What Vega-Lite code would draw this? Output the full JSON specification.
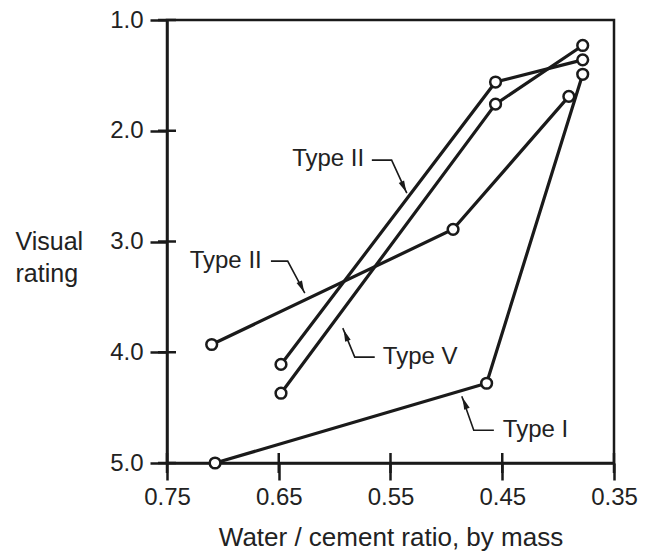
{
  "$schema": "https://vega.github.io/schema/vega-lite/v6.json",
  "width": 447,
  "height": 443,
  "autosize": "none",
  "padding": {"left": 167, "top": 20, "right": 34, "bottom": 96},
  "background": "white",
  "datasets": {
    "points": [
      {"series": "Type I", "wc": 0.707, "rating": 5.0},
      {"series": "Type I", "wc": 0.464, "rating": 4.28},
      {"series": "Type I", "wc": 0.378, "rating": 1.49},
      {"series": "Type II (a)", "wc": 0.648, "rating": 4.11},
      {"series": "Type II (a)", "wc": 0.456, "rating": 1.56},
      {"series": "Type II (a)", "wc": 0.378, "rating": 1.36},
      {"series": "Type V", "wc": 0.648, "rating": 4.37},
      {"series": "Type V", "wc": 0.456, "rating": 1.76},
      {"series": "Type V", "wc": 0.378, "rating": 1.23},
      {"series": "Type II (b)", "wc": 0.710, "rating": 3.93},
      {"series": "Type II (b)", "wc": 0.494, "rating": 2.89},
      {"series": "Type II (b)", "wc": 0.3904, "rating": 1.69}
    ],
    "labels": [
      {"label": "Type II", "wc": 0.638, "rating": 2.256},
      {"label": "Type II", "wc": 0.7297, "rating": 3.177},
      {"label": "Type V", "wc": 0.5569, "rating": 4.044},
      {"label": "Type I", "wc": 0.4495, "rating": 4.704}
    ],
    "leaders": [
      {"leader": "IIa", "step": 1, "wc": 0.5667, "rating": 2.265},
      {"leader": "IIa", "step": 2, "wc": 0.549, "rating": 2.265},
      {"leader": "IIa", "step": 3, "wc": 0.5354, "rating": 2.563},
      {"leader": "IIb", "step": 1, "wc": 0.657, "rating": 3.177},
      {"leader": "IIb", "step": 2, "wc": 0.642, "rating": 3.177},
      {"leader": "IIb", "step": 3, "wc": 0.6267, "rating": 3.466},
      {"leader": "V", "step": 1, "wc": 0.5641, "rating": 4.044},
      {"leader": "V", "step": 2, "wc": 0.582, "rating": 4.044},
      {"leader": "V", "step": 3, "wc": 0.5927, "rating": 3.782},
      {"leader": "I", "step": 1, "wc": 0.4575, "rating": 4.704},
      {"leader": "I", "step": 2, "wc": 0.4755, "rating": 4.704},
      {"leader": "I", "step": 3, "wc": 0.4862, "rating": 4.397}
    ],
    "arrows": [
      {"leader": "IIa", "wc": 0.538, "rating": 2.509},
      {"leader": "IIb", "wc": 0.6294, "rating": 3.412},
      {"leader": "V", "wc": 0.590, "rating": 3.846},
      {"leader": "I", "wc": 0.4835, "rating": 4.46}
    ],
    "xticks": [{"wc": 0.75}, {"wc": 0.65}, {"wc": 0.55}, {"wc": 0.45}, {"wc": 0.35}],
    "yticks": [{"rating": 1}, {"rating": 2}, {"rating": 3}, {"rating": 4}, {"rating": 5}]
  },
  "layer": [
    {
      "data": {"name": "points"},
      "mark": {"type": "line", "color": "#1a1a1a", "strokeWidth": 3.2},
      "encoding": {
        "x": {
          "field": "wc", "type": "quantitative",
          "scale": {"domain": [0.35, 0.75], "reverse": true, "nice": false, "zero": false},
          "axis": {
            "values": [0.75, 0.65, 0.55, 0.45, 0.35],
            "format": ".2f",
            "title": "Water / cement ratio, by mass",
            "titleFontSize": 26,
            "labelPadding": 5,
            "titlePadding": 15
          }
        },
        "y": {
          "field": "rating", "type": "quantitative",
          "scale": {"domain": [1, 5], "reverse": true, "nice": false, "zero": false},
          "axis": {
            "values": [1, 2, 3, 4, 5],
            "format": ".1f",
            "title": ["Visual", "rating"],
            "titleFontSize": 25,
            "titleAngle": 0,
            "titleAlign": "left",
            "titleBaseline": "middle",
            "titleX": -152,
            "titleY": 221,
            "titleLineHeight": 32,
            "labelPadding": 7
          }
        },
        "detail": {"field": "series"}
      }
    },
    {
      "data": {"name": "points"},
      "mark": {"type": "point", "shape": "circle", "filled": true, "fill": "white", "stroke": "#1a1a1a", "strokeWidth": 2.5, "size": 115, "opacity": 1},
      "encoding": {
        "x": {"field": "wc", "type": "quantitative"},
        "y": {"field": "rating", "type": "quantitative"}
      }
    },
    {
      "data": {"name": "leaders"},
      "mark": {"type": "line", "color": "#1a1a1a", "strokeWidth": 1.6},
      "encoding": {
        "x": {"field": "wc", "type": "quantitative"},
        "y": {"field": "rating", "type": "quantitative"},
        "detail": {"field": "leader"},
        "order": {"field": "step"}
      }
    },
    {
      "data": {"name": "arrows"},
      "transform": [{"filter": "datum.leader === 'IIa' || datum.leader === 'IIb'"}],
      "mark": {"type": "point", "shape": "M-0.5,-1L0.5,-1L0,1Z", "filled": true, "color": "#1a1a1a", "size": 140, "angle": 335, "opacity": 1},
      "encoding": {
        "x": {"field": "wc", "type": "quantitative"},
        "y": {"field": "rating", "type": "quantitative"}
      }
    },
    {
      "data": {"name": "arrows"},
      "transform": [{"filter": "datum.leader === 'V' || datum.leader === 'I'"}],
      "mark": {"type": "point", "shape": "M-0.5,1L0.5,1L0,-1Z", "filled": true, "color": "#1a1a1a", "size": 140, "angle": 339, "opacity": 1},
      "encoding": {
        "x": {"field": "wc", "type": "quantitative"},
        "y": {"field": "rating", "type": "quantitative"}
      }
    },
    {
      "data": {"name": "labels"},
      "mark": {"type": "text", "align": "left", "baseline": "middle", "font": "Liberation Sans", "fontSize": 24, "color": "#222"},
      "encoding": {
        "x": {"field": "wc", "type": "quantitative"},
        "y": {"field": "rating", "type": "quantitative"},
        "text": {"field": "label"}
      }
    },
    {
      "data": {"name": "xticks"},
      "mark": {"type": "tick", "orient": "vertical", "color": "#1a1a1a", "thickness": 2.5, "size": 20, "opacity": 1},
      "encoding": {
        "x": {"field": "wc", "type": "quantitative"},
        "y": {"datum": 5}
      }
    },
    {
      "data": {"name": "yticks"},
      "mark": {"type": "tick", "orient": "horizontal", "color": "#1a1a1a", "thickness": 2.5, "size": 18, "opacity": 1},
      "encoding": {
        "y": {"field": "rating", "type": "quantitative"},
        "x": {"datum": 0.75}
      }
    }
  ],
  "config": {
    "view": {"stroke": "#1a1a1a", "strokeWidth": 2.5},
    "font": "Liberation Sans",
    "axis": {
      "grid": false,
      "domainColor": "#1a1a1a",
      "domainWidth": 2.5,
      "tickColor": "#1a1a1a",
      "tickWidth": 2.5,
      "tickSize": 17,
      "labelFont": "Liberation Sans",
      "labelFontSize": 24,
      "labelColor": "#222",
      "titleFont": "Liberation Sans",
      "titleFontSize": 24,
      "titleFontWeight": "normal",
      "titleColor": "#222",
      "labelOverlap": false,
      "labelFlush": false
    }
  }
}
